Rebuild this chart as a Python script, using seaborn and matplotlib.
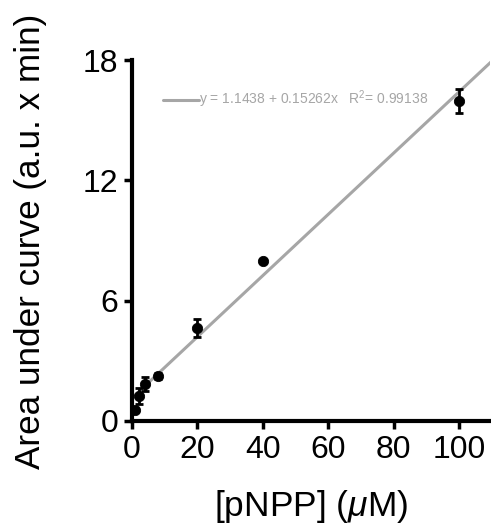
import numpy as np
import pandas as pd
import matplotlib
matplotlib.use("Agg")
import matplotlib.pyplot as plt
import seaborn as sns

# pNPP concentrations (uM) and measured area under curve
conc = [1, 2, 4, 8, 20, 40, 100]
auc = [0.55, 1.25, 1.85, 2.25, 4.65, 8.0, 15.95]
auc_err = [0.1, 0.4, 0.35, 0.15, 0.45, 0.1, 0.6]

# linear fit parameters
intercept = 1.1438
slope = 0.15262
r2 = 0.99138

x_ticks = [0, 20, 40, 60, 80, 100]
y_ticks = [0, 6, 12, 18]

sns.set_style("ticks")
plt.rcParams["font.family"] = ["Liberation Sans", "DejaVu Sans"]
plt.rcParams["mathtext.fontset"] = "custom"
plt.rcParams["mathtext.it"] = "Liberation Sans:italic"
plt.rcParams["mathtext.rm"] = "Liberation Sans"
plt.rcParams["text.color"] = "black"
plt.rcParams["axes.labelcolor"] = "black"
plt.rcParams["xtick.color"] = "black"
plt.rcParams["ytick.color"] = "black"
plt.rcParams["axes.edgecolor"] = "black"

fig = plt.figure(figsize=(4.91, 5.26), dpi=100)
ax = fig.add_axes([132 / 491, 105 / 526, (490 - 132) / 491, (421 - 60) / 526])

xmin, xmax = 0, 109.5
fit_x = np.array([1, 115])
fit_df = pd.DataFrame({"x": fit_x, "y": intercept + slope * fit_x})
sns.lineplot(data=fit_df, x="x", y="y", ax=ax, color="#a6a6a6", lw=2.2,
             label=f"y = {intercept} + {slope}x   R$^2$= {r2}")

df = pd.DataFrame({"conc": conc, "auc": auc, "err": auc_err})
ax.errorbar(df["conc"], df["auc"], yerr=df["err"], fmt="none", ecolor="black",
            elinewidth=2, capsize=3, capthick=2, zorder=3)
sns.scatterplot(data=df, x="conc", y="auc", ax=ax, color="black", s=55,
                edgecolor="black", zorder=4)

ax.set_xlim(xmin, xmax)
ax.set_ylim(0, 18)
ax.set_xticks(x_ticks)
ax.set_yticks(y_ticks)
ax.tick_params(axis="both", labelsize=23, width=2.5, length=6, pad=4, color="black")
ax.set_xlabel("[pNPP] ($\\mu$M)", fontsize=25.5)
ax.set_ylabel("Area under curve (a.u. x min)", fontsize=25.3)
ax.xaxis.set_label_coords(0.5, -0.186)
ax.yaxis.set_label_coords(-0.237, 0.497)
for side in ["left", "bottom"]:
    ax.spines[side].set_linewidth(3)
sns.despine(ax=ax)
ax.spines["bottom"].set_bounds(xmin, xmax)

leg = ax.legend(loc="upper left", bbox_to_anchor=(0.087, 0.92), frameon=False,
                fontsize=10, handlelength=2.6, handletextpad=0.0, borderaxespad=0,
                borderpad=0)
for t in leg.get_texts():
    t.set_color("#a6a6a6")

fig.savefig("out.png", dpi=100)
